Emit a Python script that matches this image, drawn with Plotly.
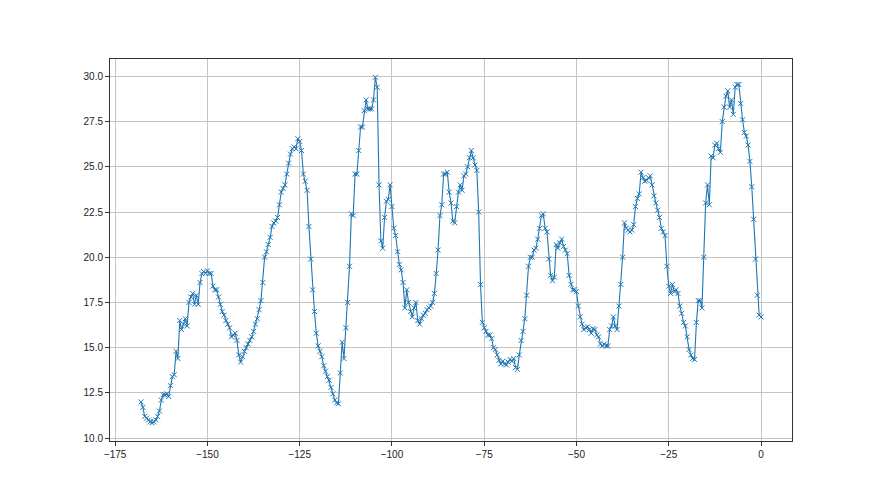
import plotly.graph_objects as go

# hours before now (every half hour) and readings
x_start = -168.0
x_step = 0.5
values = [
    12.0, 11.7, 11.2, 11.1, 11.0, 10.9, 10.85, 10.9, 11.0, 11.2,
    11.5, 12.1, 12.4, 12.4, 12.45, 12.3, 12.9, 13.4, 13.5, 14.8,
    14.4, 16.5, 16.0, 16.3, 16.6, 16.2, 17.5, 17.8, 18.0, 17.4,
    17.9, 17.4, 18.6, 19.1, 19.2, 19.1, 19.25, 19.1, 19.1, 18.4,
    18.2, 18.2, 17.8, 17.4, 17.0, 16.8, 16.5, 16.3, 16.1, 15.6,
    15.7, 15.8, 15.4, 14.6, 14.2, 14.5, 14.8, 15.0, 15.2, 15.4,
    15.6, 15.9, 16.3, 16.6, 17.1, 17.6, 18.6, 20.0, 20.3, 20.7,
    21.1, 21.7, 21.9, 22.0, 22.2, 22.9, 23.6, 23.8, 24.0, 24.6,
    25.2, 25.7, 26.0, 26.1, 26.0, 26.55, 26.4, 25.9, 24.6, 24.2,
    23.7, 21.7, 19.9, 18.2, 17.0, 15.8, 15.1, 14.8, 14.5, 14.0,
    13.7, 13.4, 13.2, 12.8, 12.45, 12.1, 11.95, 11.9, 13.6, 15.3,
    14.4, 16.1, 17.5, 19.5, 22.4, 22.3, 24.6, 24.6, 25.9, 27.2,
    27.2, 28.1, 28.7, 28.2, 28.2, 28.2, 28.7, 29.95, 29.4, 24.0,
    20.9, 20.5, 22.2, 23.1, 23.2, 24.0, 22.8, 21.6, 21.2, 20.3,
    19.6, 19.3, 18.6, 17.2, 18.2, 17.5, 17.0, 16.7, 17.2, 17.5,
    16.5, 16.3, 16.6, 16.8, 16.9, 17.1, 17.2, 17.3, 17.5, 18.0,
    19.1, 20.4, 22.3, 22.9, 24.6, 24.6, 24.7, 23.6, 23.0, 22.0,
    21.9, 22.8, 23.6, 24.0, 23.7, 24.5, 24.6, 25.0, 25.5, 25.9,
    25.5, 25.1, 24.8, 22.5, 18.5, 16.4, 16.1, 15.9, 15.7, 15.7,
    15.5, 15.0, 14.9, 14.6, 14.3, 14.1, 14.25, 14.1, 14.05, 14.2,
    14.35, 14.25, 14.4, 13.9, 13.8, 14.6, 15.4, 15.9, 16.6, 17.9,
    19.5, 20.0, 20.0, 20.4, 20.5, 21.0, 21.6, 22.3, 22.4, 21.6,
    21.4, 19.9, 19.0, 18.7, 18.9, 20.7, 20.5, 20.8, 21.0, 20.6,
    20.4, 20.2, 19.0, 18.5, 18.2, 18.2, 18.1, 17.3, 16.7, 16.3,
    16.0, 16.1, 16.15, 16.0, 15.8, 16.05, 16.0, 15.7, 15.6, 15.2,
    15.1, 15.2, 15.1, 15.1, 16.0, 16.2, 16.7, 16.2, 16.0, 17.3,
    18.5, 20.0, 21.9, 21.6, 21.5, 21.4, 21.5, 21.8, 22.8, 23.25,
    23.5, 24.7, 24.4, 24.2, 24.25, 24.4, 24.5, 24.0, 23.4, 23.0,
    22.6, 22.2, 21.6, 21.4, 21.2, 19.5, 18.4, 18.0, 18.5, 18.1,
    18.2, 18.0, 17.3, 16.9, 16.4, 16.2, 15.6, 14.9, 14.6, 14.4,
    14.35, 16.4, 17.6, 17.6, 17.2, 20.0, 23.0, 24.0, 22.9, 25.6,
    25.5, 26.2, 26.3, 26.0, 25.8, 27.5, 28.3, 28.9, 29.2, 28.3,
    28.7, 27.9, 29.4, 29.55, 29.55, 28.5, 27.6, 26.9, 26.7, 26.2,
    25.3, 23.9, 22.1, 19.9, 17.9, 16.8, 16.7,
]
hours = [x_start + i * x_step for i in range(len(values))]

x_ticks = [-175, -150, -125, -100, -75, -50, -25, 0]
y_ticks = [10.0, 12.5, 15.0, 17.5, 20.0, 22.5, 25.0, 27.5, 30.0]

fig = go.Figure()
fig.add_trace(go.Scatter(
    x=hours, y=values, mode="lines+markers",
    line=dict(color="#1f77b4", width=1.1),
    marker=dict(symbol="x-thin", size=5, color="#1f77b4",
                line=dict(color="#1f77b4", width=1)),
    showlegend=False,
))

axis_common = dict(
    showgrid=True, gridcolor="#c4c4c4", gridwidth=1,
    zeroline=False, showline=True, linecolor="#333333", linewidth=1,
    mirror=True, ticks="outside", ticklen=4, tickcolor="#333333",
    tickfont=dict(family="Liberation Sans Narrow, Liberation Sans, Arial", size=10, color="#222222"),
)

fig.update_layout(
    width=880, height=495,
    margin=dict(l=102, r=96, t=51, b=62),
    paper_bgcolor="white", plot_bgcolor="white",
    xaxis=dict(range=[-176.4, 8.4], tickvals=x_ticks, **axis_common),
    yaxis=dict(range=[9.84, 30.96], tickvals=y_ticks, tickformat=".1f", **axis_common),
)

fig.write_html("out.html")
